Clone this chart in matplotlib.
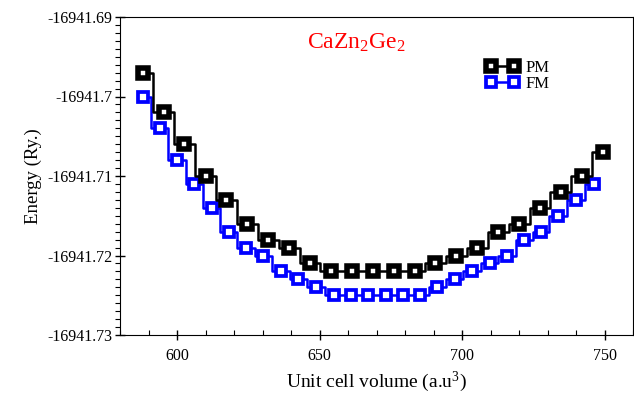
import matplotlib
matplotlib.use("Agg")
import matplotlib.pyplot as plt
from matplotlib.ticker import MultipleLocator, FuncFormatter

# --- data ---
pm_volume = [588.0, 595.3, 602.6, 610.0, 617.3, 624.6, 632.0, 639.3, 646.7, 654.0,
             661.4, 668.7, 676.0, 683.4, 690.7, 698.0, 705.4, 712.7, 720.0, 727.4,
             734.7, 742.0, 749.4]
pm_energy = [-16941.697, -16941.702, -16941.706, -16941.710, -16941.713, -16941.716,
             -16941.718, -16941.719, -16941.721, -16941.722, -16941.722, -16941.722,
             -16941.722, -16941.722, -16941.721, -16941.720, -16941.719, -16941.717,
             -16941.716, -16941.714, -16941.712, -16941.710, -16941.707]

fm_volume = [588.1, 594.0, 600.0, 606.0, 612.3, 618.2, 624.2, 630.2, 636.5, 642.5,
             648.8, 655.1, 661.1, 667.0, 673.3, 679.3, 685.3, 691.2, 697.5, 703.5,
             709.8, 715.8, 721.8, 727.7, 733.7, 740.0, 746.3]
fm_energy = [-16941.700, -16941.704, -16941.708, -16941.711, -16941.714, -16941.717,
             -16941.719, -16941.720, -16941.722, -16941.723, -16941.724, -16941.725,
             -16941.725, -16941.725, -16941.725, -16941.725, -16941.725, -16941.724,
             -16941.723, -16941.722, -16941.721, -16941.720, -16941.718, -16941.717,
             -16941.715, -16941.713, -16941.711]

series_labels = ["PM", "FM"]
title_text = r"CaZn$_2$Ge$_2$"
x_label = r"Unit cell volume (a.u$^3$)"
y_label = "Energy (Ry.)"

plt.rcParams['font.family'] = ['Liberation Serif', 'DejaVu Serif']
plt.rcParams['mathtext.fontset'] = 'custom'
plt.rcParams['mathtext.rm'] = 'Liberation Serif'
plt.rcParams['mathtext.it'] = 'Liberation Serif'

fig = plt.figure(figsize=(6.34, 3.94), dpi=100)
ax = fig.add_axes([120/634, 1 - 335/394, (633-120)/634, (335-17)/394])

ax.plot(pm_volume, pm_energy, color='black', lw=1.8, drawstyle='steps-mid',
        marker='s', ms=7.2, mec='black', mfc='white', mew=4.0, label=series_labels[0], zorder=3)
ax.plot(fm_volume, fm_energy, color='#0000ff', lw=1.8, drawstyle='steps-mid',
        marker='s', ms=6.6, mec='#0000ff', mfc='white', mew=2.7, label=series_labels[1], zorder=2)

ax.set_xlim(580, 760)
ax.set_ylim(-16941.73, -16941.69)

ax.xaxis.set_major_locator(MultipleLocator(50))
ax.xaxis.set_minor_locator(MultipleLocator(10))
ax.yaxis.set_major_locator(MultipleLocator(0.01))
ax.yaxis.set_minor_locator(MultipleLocator(0.001))

def yfmt(v, pos):
    s = f"{v:.2f}"
    if s.endswith("0"):
        s = s[:-1]
    return s
ax.yaxis.set_major_formatter(FuncFormatter(yfmt))

ax.tick_params(axis='both', which='major', direction='inout', length=7, width=1, labelsize=11.5)
ax.tick_params(axis='x', which='minor', direction='in', length=3.5, width=0.8)
ax.tick_params(axis='y', which='minor', direction='out', length=3.5, width=0.8)
ax.tick_params(axis='y', which='major', pad=2)
ax.tick_params(axis='x', which='major', pad=6)

ax.set_xlabel(x_label, fontsize=14, labelpad=4)
ax.set_ylabel(y_label, fontsize=13.5, labelpad=4)

ax.text(663, -16941.6932, title_text, color='red', fontsize=17, ha='center', va='center')

leg = ax.legend(loc='upper left', bbox_to_anchor=(0.70, 0.885), frameon=False,
                numpoints=2, fontsize=12, handlelength=2.0, handletextpad=0.4,
                labelspacing=0.0, borderaxespad=0)

fig.savefig("out.png", dpi=100)
